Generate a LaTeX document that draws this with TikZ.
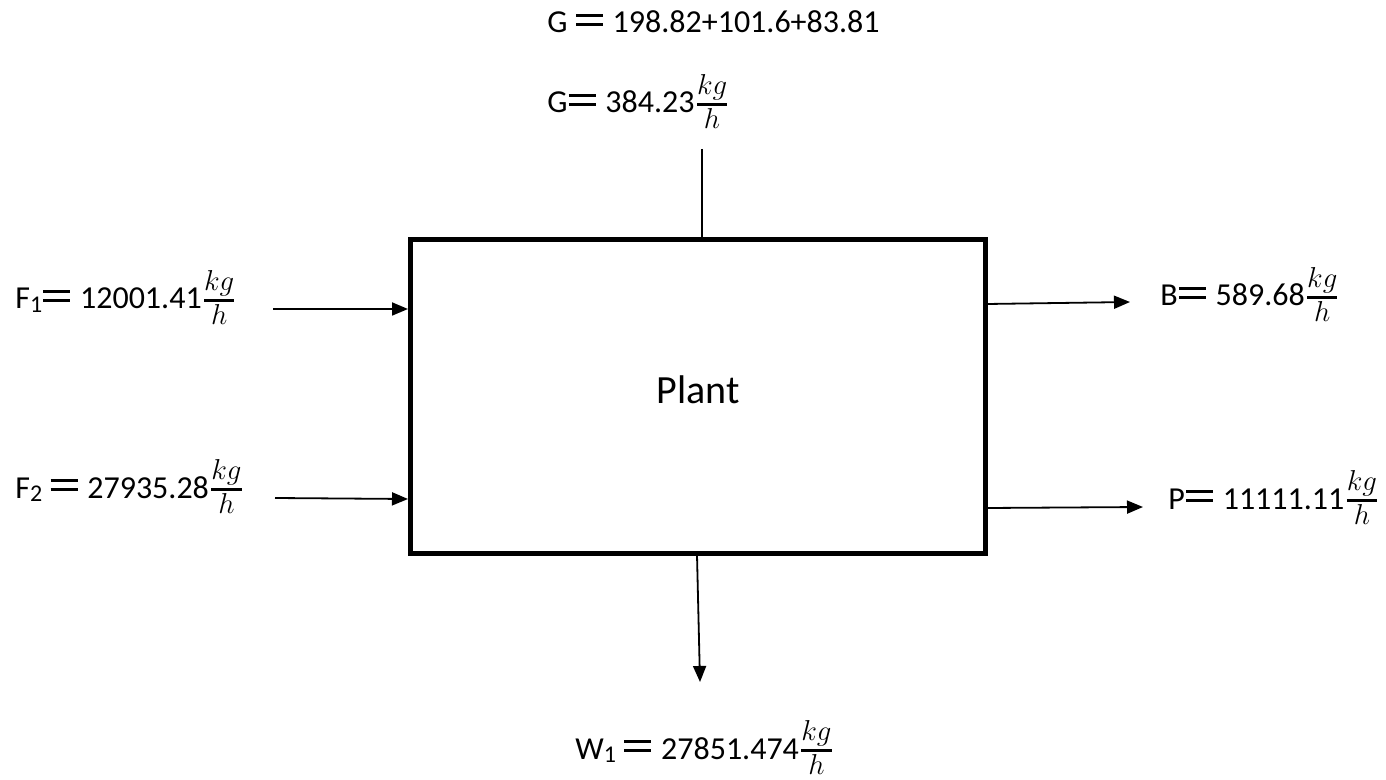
\documentclass[tikz,border=0pt]{standalone}
\usepackage{fontspec}
\setmainfont{Carlito}
\usetikzlibrary{arrows.meta}
\tikzset{
  flow/.style={line width=0.9pt,-{Triangle[length=8pt,width=6.5pt]}},
  plainline/.style={line width=0.9pt},
  lbl/.style={anchor=base west,inner sep=0pt,font=\fontsize{16}{19}\selectfont},
  unitbox/.style={draw,line width=2.5pt,minimum width=287.5pt,minimum height=156.5pt,inner sep=0pt}
}
% bold equals sign, flow-rate unit and subscript used in the stream labels
\newcommand{\eqs}{\kern0.6pt\rlap{\rule[3.6pt]{13.5pt}{1.4pt}}\rule[8pt]{13.5pt}{1.4pt}\kern1.2pt}
\newcommand{\unitpart}[1]{\mbox{\fontsize{14.5}{14.5}\selectfont$#1$}}
\newcommand{\kgh}{${\unitpart{kg}\above1.4pt\unitpart{h}}$}
\newcommand{\sub}[1]{\raisebox{-0.2ex}{\fontsize{12}{12}\selectfont #1}}
\begin{document}
\begin{tikzpicture}[x=0.5pt,y=-0.5pt]
\useasboundingbox (0,0) rectangle (1386,780);
% process block
\node[unitbox] (plant) at (697.5,396.5) {};
\node[anchor=base,inner sep=0pt,font=\fontsize{20}{24}\selectfont] (plantname) at (698.5,404) {Plant};
% stream labels
\node[lbl] (glabelsum) at (547,33) {G \eqs{} 198.82+101.6+83.81};
\node[lbl] (glabel) at (547,113) {G\eqs{} 384.23\kgh};
\node[lbl] (f1label) at (15,309) {F\sub{1}\eqs{} 12001.41\kgh};
\node[lbl] (f2label) at (15,498) {F\sub{2} \eqs{} 27935.28\kgh};
\node[lbl] (blabel) at (1160,306) {B\eqs{} 589.68\kgh};
\node[lbl] (plabel) at (1168,509) {P\eqs{} 11111.11\kgh};
\node[lbl] (wlabel) at (575,759) {W\sub{1} \eqs{} 27851.474\kgh};
% stream ends
\coordinate (gtop) at (702,149);
\coordinate (gin) at (702,238);
\coordinate (f1tail) at (273,309);
\coordinate (f1head) at (408,309);
\coordinate (f2tail) at (275,498);
\coordinate (f2head) at (408,499);
\coordinate (bout) at (987,304);
\coordinate (bhead) at (1130,302);
\coordinate (pout) at (987,508);
\coordinate (phead) at (1143,507);
\coordinate (wout) at (697,555);
\coordinate (whead) at (700,682);
% streams
\draw[plainline] (gtop) -- (gin);
\draw[flow] (f1tail) -- (f1head);
\draw[flow] (f2tail) -- (f2head);
\draw[flow] (bout) -- (bhead);
\draw[flow] (pout) -- (phead);
\draw[flow] (wout) -- (whead);
\end{tikzpicture}
\end{document}
